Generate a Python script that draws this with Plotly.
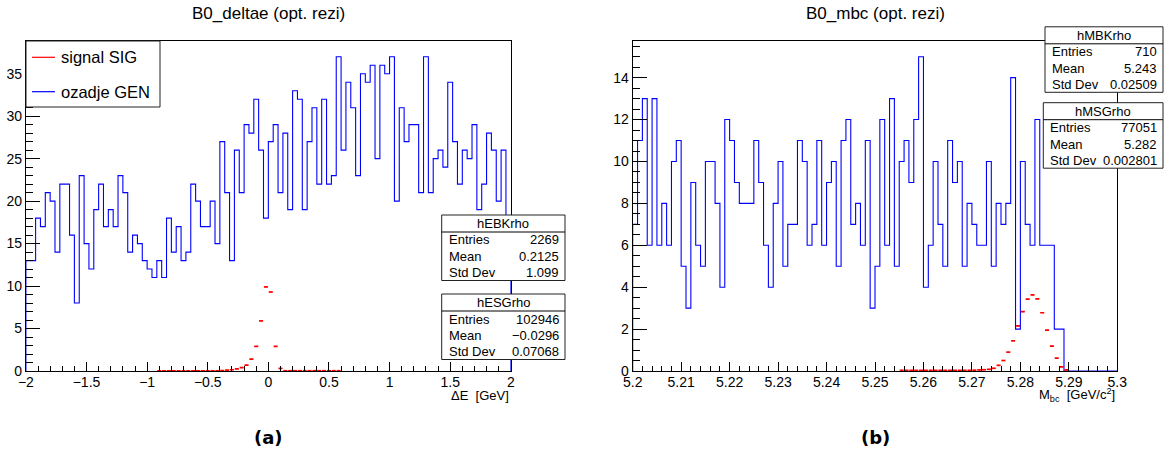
import plotly.graph_objects as go

W, H = 1176, 457
FONT = "Liberation Sans"

# ---- Delta E histograms: 100 bins on [-2, 2] ----
de_lo, de_hi = -2.0, 2.0
de_background = [13, 13, 18, 17, 21, 20, 14, 22, 22, 16,
                 8, 23, 15, 12, 19, 22, 17, 19, 17, 23,
                 21, 14, 16, 15, 13, 12, 11, 13, 11, 18,
                 14, 17, 13, 14, 22, 20, 17, 17, 20, 15,
                 27, 21, 13, 26, 21, 29, 28, 32, 26, 18,
                 27, 29, 21, 28, 19, 33, 32, 19, 27, 31,
                 22, 32, 22, 23, 37, 26, 34, 31, 23, 35,
                 34, 36, 25, 36, 35, 37, 20, 31, 27, 29,
                 29, 21, 37, 21, 25, 26, 24, 34, 27, 22,
                 26, 25, 29, 19, 22, 28, 26, 20, 26, 16]
de_signal = [0, 0, 0, 0, 0, 0, 0, 0, 0, 0,
             0, 0, 0, 0, 0, 0, 0, 0, 0, 0,
             0, 0, 0, 0, 0, 0, 0, 0.03, 0.03, 0.03,
             0.03, 0.03, 0.03, 0.03, 0.03, 0.03, 0.03, 0.03, 0.03, 0.03,
             0.06, 0.1, 0.15, 0.25, 0.4, 0.7, 1.4, 2.9, 5.9, 9.9,
             9.3, 2.9, 0.3, 0.03, 0.03, 0.03, 0.03, 0.03, 0.03, 0.03,
             0.03, 0.03, 0.03, 0.03, 0.03, 0, 0, 0, 0, 0,
             0, 0, 0, 0, 0, 0, 0, 0, 0, 0,
             0, 0, 0, 0, 0, 0, 0, 0, 0, 0,
             0, 0, 0, 0, 0, 0, 0, 0, 0, 0]

# ---- Mbc histograms: 100 bins on [5.2, 5.3] ----
mbc_lo, mbc_hi = 5.2, 5.3
mbc_background = [7, 11, 13, 6, 13, 6, 8, 6, 10, 11,
                  5, 3, 9, 6, 5, 10, 10, 8, 4, 12,
                  11, 9, 8, 8, 8, 11, 9, 6, 4, 8,
                  10, 5, 7, 7, 11, 10, 6, 7, 11, 6,
                  9, 10, 5, 11, 12, 7, 8, 6, 11, 3,
                  5, 12, 6, 13, 5, 10, 11, 9, 12, 15,
                  4, 6, 10, 7, 5, 11, 9, 10, 5, 8,
                  7, 6, 6, 10, 5, 8, 7, 8, 14, 2,
                  10, 7, 6, 12, 6, 6, 6, 2, 2, 0,
                  0, 0, 0, 0, 0, 0, 0, 0, 0, 0]
mbc_signal = [0, 0, 0, 0, 0, 0, 0, 0, 0, 0,
              0, 0, 0, 0, 0, 0, 0, 0, 0, 0,
              0, 0, 0, 0, 0, 0, 0, 0, 0, 0,
              0, 0, 0, 0, 0, 0, 0, 0, 0, 0,
              0, 0, 0, 0, 0, 0, 0, 0, 0, 0,
              0, 0, 0, 0, 0, 0.03, 0.03, 0.03, 0.03, 0.03,
              0.03, 0.03, 0.03, 0.03, 0.03, 0.03, 0.03, 0.03, 0.03, 0.03,
              0.04, 0.05, 0.06, 0.08, 0.13, 0.27, 0.5, 0.9, 1.44, 2.15,
              2.83, 3.43, 3.63, 3.44, 2.78, 1.95, 1.19, 0.61, 0.2, 0.05,
              0, 0, 0, 0, 0, 0, 0, 0, 0, 0]

# ---- statistics boxes ----
de_stats_bkg = ("hEBKrho", ["Entries", "Mean", "Std Dev"], ["2269", "0.2125", "1.099"])
de_stats_sig = ("hESGrho", ["Entries", "Mean", "Std Dev"], ["102946", "\u22120.0296", "0.07068"])
mbc_stats_bkg = ("hMBKrho", ["Entries", "Mean", "Std Dev"], ["710", "5.243", "0.02509"])
mbc_stats_sig = ("hMSGrho", ["Entries", "Mean", "Std Dev"], ["77051", "5.282", "0.002801"])

legend_labels = ["signal SIG", "ozadje GEN"]
titles = ["B0_deltae (opt. rezi)", "B0_mbc (opt. rezi)"]
panel_tags = ["(a)", "(b)"]

# plot frames in pixels (left, right, top, bottom)
FRAME_L = (25.9, 510.8, 41, 371)
FRAME_R = (632.7, 1117.3, 41, 371)


def px(x):
    return x / W


def py(y):
    return 1 - y / H


def edges(lo, hi, n):
    bw = (hi - lo) / n
    return [lo + i * bw for i in range(n + 1)], bw


def step_trace(lo, hi, counts, xa, ya):
    e, _ = edges(lo, hi, len(counts))
    xs = [e[0]] + e[:-1] + [e[-1]]
    ys = [0] + list(counts) + [0]
    return go.Scatter(x=xs, y=ys, mode="lines", line_shape="hv",
                      line=dict(color="#0000ff", width=1.1),
                      xaxis=xa, yaxis=ya, showlegend=False, hoverinfo="skip")


def point_trace(lo, hi, counts, xa, ya):
    e, bw = edges(lo, hi, len(counts))
    xs = [0.5 * (e[i] + e[i + 1]) for i, c in enumerate(counts) if c > 0]
    ys = [c for c in counts if c > 0]
    return go.Scatter(x=xs, y=ys, mode="markers",
                      marker=dict(size=1, color="#ff0000"),
                      error_x=dict(type="constant", value=0.42 * bw, width=0,
                                   thickness=1.7, color="#ff0000"),
                      xaxis=xa, yaxis=ya, showlegend=False, hoverinfo="skip")


fig = go.Figure()
fig.add_trace(step_trace(de_lo, de_hi, de_background, "x", "y"))
fig.add_trace(point_trace(de_lo, de_hi, de_signal, "x", "y"))
fig.add_trace(step_trace(mbc_lo, mbc_hi, mbc_background, "x2", "y2"))
fig.add_trace(point_trace(mbc_lo, mbc_hi, mbc_signal, "x2", "y2"))

tickfont = dict(family=FONT, size=14, color="#000")


def xaxis_cfg(frame, lo, hi, dtick, minor, anchor):
    return dict(domain=[px(frame[0]), px(frame[1])], range=[lo, hi],
                tickmode="linear", tick0=lo, dtick=dtick,
                ticks="inside", ticklen=9, tickwidth=1, tickcolor="#000",
                minor=dict(ticks="inside", ticklen=5, dtick=minor, tickcolor="#000", tickwidth=1),
                showline=True, mirror=True, linecolor="#000", linewidth=1,
                showgrid=False, zeroline=False, tickfont=tickfont, anchor=anchor,
                ticklabelstandoff=-2, automargin=False, fixedrange=True)


def yaxis_cfg(frame, top, dtick, minor, anchor):
    return dict(domain=[py(frame[3]), py(frame[2])], range=[0, top],
                tickmode="linear", tick0=0, dtick=dtick,
                ticks="inside", ticklen=14, tickwidth=1, tickcolor="#000",
                minor=dict(ticks="inside", ticklen=7, dtick=minor, tickcolor="#000", tickwidth=1),
                showline=True, mirror=True, linecolor="#000", linewidth=1,
                showgrid=False, zeroline=False, tickfont=tickfont, anchor=anchor,
                automargin=False, fixedrange=True)


de_top = 1.05 * max(max(de_background), max(de_signal))
mbc_top = 1.05 * max(max(mbc_background), max(mbc_signal))

fig.update_layout(
    width=W, height=H, autosize=False,
    margin=dict(l=0, r=0, t=0, b=0, autoexpand=False),
    paper_bgcolor="white", plot_bgcolor="white",
    xaxis=xaxis_cfg(FRAME_L, de_lo, de_hi, 0.5, 0.1, "y"),
    yaxis=yaxis_cfg(FRAME_L, de_top, 5, 1, "x"),
    xaxis2=xaxis_cfg(FRAME_R, mbc_lo, mbc_hi, 0.01, 0.002, "y2"),
    yaxis2=yaxis_cfg(FRAME_R, mbc_top, 2, 0.5, "x2"),
    showlegend=False,
)

shapes = []
annotations = []


def text(x, y, s, size, anchor="center", family=FONT, color="#000"):
    annotations.append(dict(x=px(x), y=py(y), xref="paper", yref="paper", text=s,
                            showarrow=False, xanchor=anchor, yanchor="middle",
                            font=dict(family=family, size=size, color=color)))


def rect(x0, y0, x1, y1, line="#000", width=1, fill="white"):
    shapes.append(dict(type="rect", xref="paper", yref="paper",
                       x0=px(x0), x1=px(x1), y0=py(y1), y1=py(y0),
                       line=dict(color=line, width=width), fillcolor=fill, layer="above"))


def hline(x0, x1, y, color="#000", width=1):
    shapes.append(dict(type="line", xref="paper", yref="paper",
                       x0=px(x0), x1=px(x1), y0=py(y), y1=py(y),
                       line=dict(color=color, width=width), layer="above"))


def stats_box(x0, x1, top, stats):
    name, keys, vals = stats
    rect(x0, top, x1, top + 65.5, line="#222")
    hline(x0, x1, top + 17)
    text(0.5 * (x0 + x1), top + 8.8, name, 13)
    for k, (key, val) in enumerate(zip(keys, vals)):
        yy = top + 25 + 16.3 * k
        text(x0 + 5, yy, key, 13, anchor="left")
        text(x1 - 4, yy, val, 13, anchor="right")


stats_box(441.7, 565, 215, de_stats_bkg)
stats_box(441.7, 565, 294, de_stats_sig)
stats_box(1045, 1163, 26.8, mbc_stats_bkg)
stats_box(1043.3, 1163, 102.7, mbc_stats_sig)

# legend for the delta E panel
rect(26, 41, 160, 107, line="#222")
hline(32, 55, 57.3, color="#ff0000", width=1.2)
hline(32, 55, 91.7, color="#0000ff", width=1.2)
text(59, 57.3, legend_labels[0], 16.5, anchor="left")
text(59, 91.7, legend_labels[1], 16.5, anchor="left")

# titles
text(0.5 * (FRAME_L[0] + FRAME_L[1]), 14, titles[0], 17)
text(0.5 * (FRAME_R[0] + FRAME_R[1]), 14, titles[1], 17)

# axis titles
text(FRAME_L[1], 395, "\u0394E  [GeV]", 13, anchor="right")
text(FRAME_R[1], 395, "M<sub>bc</sub>  [GeV/c<sup>2</sup>]", 13, anchor="right")

# panel tags
text(0.5 * (FRAME_L[0] + FRAME_L[1]), 437, "<b>" + panel_tags[0] + "</b>", 18, family="DejaVu Sans")
text(0.5 * (FRAME_R[0] + FRAME_R[1]), 437, "<b>" + panel_tags[1] + "</b>", 18, family="DejaVu Sans")

fig.update_layout(shapes=shapes, annotations=annotations)
fig.write_html("out.html")
